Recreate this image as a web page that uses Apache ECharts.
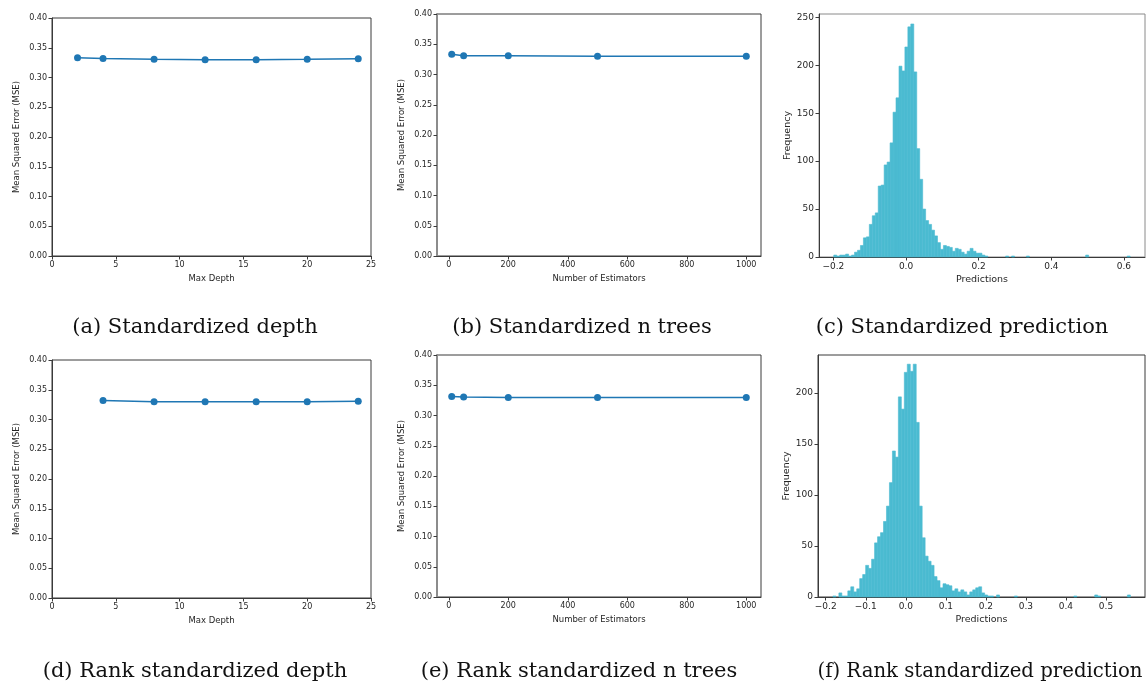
<!DOCTYPE html>
<html>
<head>
<meta charset="utf-8">
<title>Random forest tuning</title>
<script src="https://cdn.jsdelivr.net/npm/echarts@6/dist/echarts.min.js"></script>
<style>
  html, body { margin: 0; padding: 0; background: #fff; }
  #chart { width: 1148px; height: 689px; }
</style>
</head>
<body>
<div id="chart"></div>
<script>
  // MSE vs max depth
  var depthA = [2, 4, 8, 12, 16, 20, 24];
  var mseA = [0.3332, 0.3318, 0.3306, 0.3297, 0.3297, 0.3306, 0.3316];
  var depthD = [4, 8, 12, 16, 20, 24];
  var mseD = [0.3320, 0.3300, 0.3298, 0.3298, 0.3299, 0.3308];

  // MSE vs number of estimators
  var treesB = [10, 50, 200, 500, 1000];
  var mseB = [0.3333, 0.3311, 0.3310, 0.3301, 0.3300];
  var treesE = [10, 50, 200, 500, 1000];
  var mseE = [0.3316, 0.3306, 0.3297, 0.3296, 0.3296];

  // histograms of predictions, 100 bins each
  var binStartC = -0.199, binWidthC = 0.00816;
  var countsC = [
    2, 1, 2, 2, 3, 1, 2, 5, 7, 12,
    20, 21, 34, 43, 46, 74, 75, 96, 99, 119,
    151, 166, 199, 194, 219, 240, 243, 193, 113, 81,
    50, 38, 34, 28, 22, 15, 8, 12, 11, 10,
    6, 9, 8, 5, 3, 6, 9, 6, 4, 4,
    2, 1, 0, 0, 0, 0, 0, 0, 1, 0,
    1, 0, 0, 0, 0, 1, 0, 0, 0, 0,
    0, 0, 0, 0, 0, 0, 0, 0, 0, 0,
    0, 0, 0, 0, 0, 2, 0, 0, 0, 0,
    0, 0, 0, 0, 0, 0, 0, 0, 0, 1
  ];
  var binStartF = -0.182, binWidthF = 0.00743;
  var countsF = [
    1, 0, 4, 1, 1, 6, 10, 5, 8, 18,
    22, 31, 28, 37, 53, 59, 63, 74, 89, 112,
    143, 137, 196, 184, 220, 228, 221, 228, 171, 89,
    58, 40, 35, 31, 20, 16, 9, 13, 12, 11,
    6, 8, 5, 7, 5, 2, 5, 7, 9, 10,
    4, 2, 1, 1, 0, 2, 0, 0, 0, 0,
    0, 1, 0, 0, 0, 0, 0, 0, 0, 0,
    0, 0, 0, 0, 0, 0, 0, 0, 0, 0,
    0, 1, 0, 0, 0, 0, 0, 0, 2, 1,
    0, 0, 0, 0, 0, 0, 0, 0, 0, 2
  ];

  // tick labels
  var mseTicks = [0, 0.05, 0.10, 0.15, 0.20, 0.25, 0.30, 0.35, 0.40];
  var depthTicks = [0, 5, 10, 15, 20, 25];
  var treeTicks = [0, 200, 400, 600, 800, 1000];
  var predTicksC = [-0.2, 0, 0.2, 0.4, 0.6];
  var predTicksF = [-0.2, -0.1, 0, 0.1, 0.2, 0.3, 0.4, 0.5];
  var freqTicksC = [0, 50, 100, 150, 200, 250];
  var freqTicksF = [0, 50, 100, 150, 200];

  var captions = [
    '(a) Standardized depth', '(b) Standardized n trees', '(c) Standardized prediction',
    '(d) Rank standardized depth', '(e) Rank standardized n trees', '(f) Rank standardized prediction'
  ];

  var lineColor = '#1f77b4';
  var histColor = '#4bbbd1';
  var ink = '#262626';
  var sans = 'DejaVu Sans';

  function minus(s) { return String(s).replace('-', '\u2212'); }

  function grid(left, top, width, height, border) {
    return {
      left: left, top: top, width: width, height: height,
      containLabel: false, outerBoundsMode: 'none',
      show: true, borderColor: border || '#3a3a3a', borderWidth: 1,
      backgroundColor: 'transparent'
    };
  }

  function axisCommon(fontSize) {
    return {
      axisLine: { show: true, onZero: false, lineStyle: { color: '#3a3a3a', width: 1 } },
      axisTick: { show: true, inside: false, length: 3.5, lineStyle: { color: '#3a3a3a' } },
      axisLabel: { color: ink, fontFamily: sans, fontSize: fontSize, margin: 5 },
      splitLine: { show: false },
      nameTextStyle: { color: ink, fontFamily: sans, fontSize: fontSize + 0.5 }
    };
  }

  function xAxis(idx, min, max, ticks, name, fmt, fontSize, interval) {
    var a = axisCommon(fontSize);
    a.type = 'value';
    a.gridIndex = idx;
    a.min = min;
    a.max = max;
    a.name = name;
    a.nameLocation = 'middle';
    a.nameGap = 18;
    if (interval) {
      a.interval = interval;
    } else {
      a.axisTick.customValues = ticks;
      a.axisLabel.customValues = ticks;
    }
    a.axisLabel.formatter = fmt;
    a.axisLabel.showMinLabel = true;
    a.axisLabel.showMaxLabel = true;
    return a;
  }

  function yAxis(idx, min, max, ticks, name, fmt, fontSize, gap, interval) {
    var a = axisCommon(fontSize);
    a.type = 'value';
    a.gridIndex = idx;
    a.min = min;
    a.max = max;
    a.name = name;
    a.nameLocation = 'middle';
    a.nameGap = gap;
    a.nameRotate = 90;
    if (interval) {
      a.interval = interval;
    } else {
      a.axisTick.customValues = ticks;
      a.axisLabel.customValues = ticks;
    }
    a.axisLabel.formatter = fmt;
    return a;
  }

  function zip(xs, ys) {
    return xs.map(function (x, i) { return [x, ys[i]]; });
  }

  function bins(start, width, counts) {
    return counts.map(function (c, i) { return [start + i * width, start + (i + 1) * width, c]; });
  }

  function lineSeries(idx, data) {
    return {
      type: 'line', xAxisIndex: idx, yAxisIndex: idx, data: data,
      symbol: 'circle', symbolSize: 7, showSymbol: true,
      lineStyle: { color: lineColor, width: 1.5 },
      itemStyle: { color: lineColor },
      animation: false
    };
  }

  function histSeries(idx, data) {
    return {
      type: 'custom', xAxisIndex: idx, yAxisIndex: idx, data: data,
      encode: { x: [0, 1], y: 2 },
      animation: false,
      renderItem: function (params, api) {
        if (!api.value(2)) return null;
        var p0 = api.coord([api.value(0), api.value(2)]);
        var p1 = api.coord([api.value(1), 0]);
        return {
          type: 'rect',
          shape: { x: p0[0], y: p0[1], width: p1[0] - p0[0], height: p1[1] - p0[1] },
          style: { fill: histColor, stroke: histColor, lineWidth: 0.6 }
        };
      }
    };
  }

  var fmt2 = function (v) { return v.toFixed(2); };
  var fmtInt = function (v) { return String(Math.round(v)); };
  var fmt1 = function (v) { return minus(v.toFixed(1)); };
  var mseName = 'Mean Squared Error (MSE)';

  var xs = [
    xAxis(0, 0, 25, depthTicks, 'Max Depth', fmtInt, 8, 5),
    xAxis(1, -39.5, 1049.5, treeTicks, 'Number of Estimators', fmtInt, 8),
    xAxis(2, -0.2397, 0.658, predTicksC, 'Predictions', fmt1, 9),
    xAxis(3, 0, 25, depthTicks, 'Max Depth', fmtInt, 8, 5),
    xAxis(4, -39.5, 1049.5, treeTicks, 'Number of Estimators', fmtInt, 8),
    xAxis(5, -0.2193, 0.5975, predTicksF, 'Predictions', fmt1, 9)
  ];
  var ys = [
    yAxis(0, 0, 0.4, mseTicks, mseName, fmt2, 8, 31, 0.05),
    yAxis(1, 0, 0.4, mseTicks, mseName, fmt2, 8, 31, 0.05),
    yAxis(2, 0, 253.4, freqTicksC, 'Frequency', fmtInt, 9, 26),
    yAxis(3, 0, 0.4, mseTicks, mseName, fmt2, 8, 31, 0.05),
    yAxis(4, 0, 0.4, mseTicks, mseName, fmt2, 8, 31, 0.05),
    yAxis(5, 0, 237, freqTicksF, 'Frequency', fmtInt, 9, 26)
  ];
  // the scanned figure shows a grey, heavier left spine on the middle panels
  ys[1].axisLine.lineStyle = { color: '#8c8c8c', width: 2 };
  ys[4].axisLine.lineStyle = { color: '#8c8c8c', width: 2 };

  var capPos = [[195, 328], [582, 328], [962, 328], [195, 672], [579, 672], [980, 672]];
  var capSize = [21, 21, 21, 21, 21, 19.7];

  var option = {
    backgroundColor: '#fff',
    animation: false,
    grid: [
      grid(52, 18, 319, 238),
      grid(437, 14, 324, 242),
      grid(819, 14, 326, 243, '#8a8a8a'),
      grid(52, 360, 319, 238),
      grid(437, 355, 324, 242),
      grid(818, 355, 327, 242)
    ],
    xAxis: xs,
    yAxis: ys,
    series: [
      lineSeries(0, zip(depthA, mseA)),
      lineSeries(1, zip(treesB, mseB)),
      histSeries(2, bins(binStartC, binWidthC, countsC)),
      lineSeries(3, zip(depthD, mseD)),
      lineSeries(4, zip(treesE, mseE)),
      histSeries(5, bins(binStartF, binWidthF, countsF))
    ],
    graphic: captions.map(function (t, i) {
      return {
        type: 'text',
        x: capPos[i][0], y: capPos[i][1],
        style: {
          text: t,
          font: capSize[i] + 'px "DejaVu Serif"',
          fill: '#111',
          align: 'center', verticalAlign: 'middle',
          textAlign: 'center', textVerticalAlign: 'middle'
        }
      };
    })
  };

  var myChart = echarts.init(document.getElementById('chart'));
  myChart.setOption(option);
  window.addEventListener('resize', function () { myChart.resize(); });
</script>
</body>
</html>
